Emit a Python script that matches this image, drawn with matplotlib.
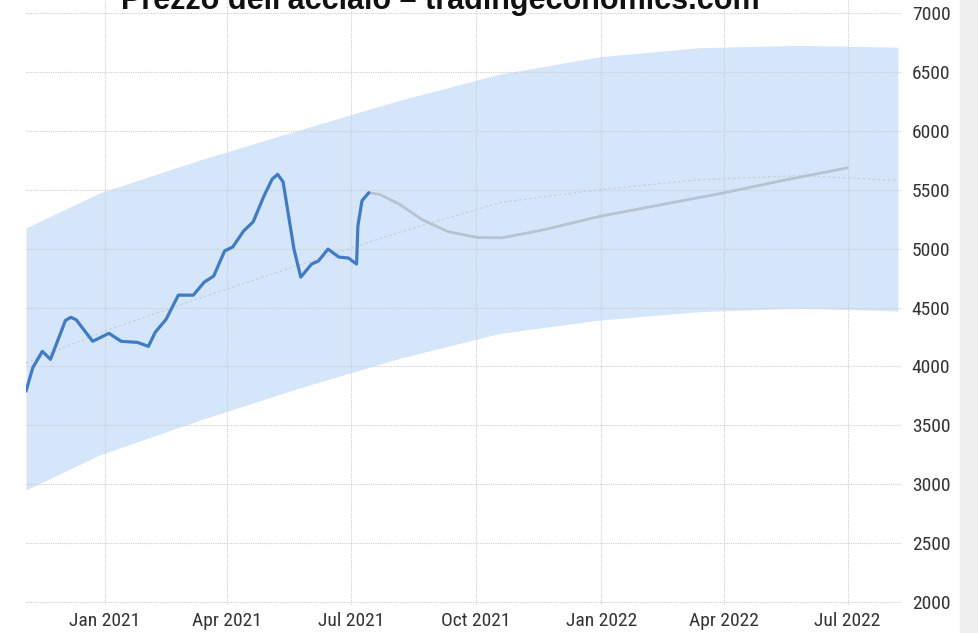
import pandas as pd
import matplotlib
matplotlib.use("Agg")
import matplotlib.pyplot as plt
import matplotlib.dates as mdates
from matplotlib import font_manager
from matplotlib.patches import Rectangle

# --- data ------------------------------------------------------------------
actual_dates = [
    "2020-11-04", "2020-11-09", "2020-11-16", "2020-11-22", "2020-12-03",
    "2020-12-07", "2020-12-11", "2020-12-23", "2021-01-04", "2021-01-13",
    "2021-01-25", "2021-02-02", "2021-02-07", "2021-02-15", "2021-02-24",
    "2021-03-07", "2021-03-15", "2021-03-22", "2021-03-30", "2021-04-05",
    "2021-04-13", "2021-04-20", "2021-04-28", "2021-05-04", "2021-05-08",
    "2021-05-12", "2021-05-20", "2021-05-25", "2021-06-02", "2021-06-07",
    "2021-06-14", "2021-06-22", "2021-06-29", "2021-07-05", "2021-07-06",
    "2021-07-09", "2021-07-14",
]
actual_values = [
    3790, 3990, 4128, 4060, 4390,
    4417, 4395, 4213, 4281, 4213,
    4204, 4170, 4290, 4400, 4605,
    4605, 4715, 4767, 4980, 5014,
    5150, 5227, 5448, 5590, 5630,
    5567, 4996, 4758, 4869, 4895,
    4996, 4928, 4920, 4869, 5193,
    5406, 5474,
]

forecast_dates = [
    "2021-07-14", "2021-07-22", "2021-08-05", "2021-08-22", "2021-09-10",
    "2021-10-02", "2021-10-20", "2021-11-17", "2021-12-31", "2022-02-15",
    "2022-04-01", "2022-05-15", "2022-07-01",
]
forecast_values = [
    5474, 5460, 5380, 5247, 5145,
    5094, 5092, 5153, 5274, 5375,
    5473, 5580, 5685,
]

band_dates = [
    "2020-11-04", "2020-12-28", "2021-03-12", "2021-05-24", "2021-08-06",
    "2021-10-18", "2021-12-31", "2022-03-14", "2022-05-27", "2022-08-07",
]
band_upper = [5175, 5472, 5752, 6007, 6260, 6480, 6629, 6705, 6725, 6709]
band_lower = [2951, 3248, 3545, 3817, 4070, 4280, 4394, 4465, 4495, 4470]
trend_values = [4029, 4284, 4581, 4861, 5140, 5390, 5500, 5585, 5620, 5578]

title = "Prezzo dell'acciaio \u2013 tradingeconomics.com"

actual_dates = pd.to_datetime(actual_dates)
forecast_dates = pd.to_datetime(forecast_dates)
band_dates = pd.to_datetime(band_dates)

# --- pick a narrow face for the tick labels if one is around ---------------
installed = font_manager.fontManager.ttflist
names = {f.name for f in installed}
tick_stretch = "normal"
if "Liberation Sans Narrow" in names:
    tick_family, tick_size = "Liberation Sans Narrow", 14.5
elif "Roboto Condensed" in names:
    tick_family, tick_size = "Roboto Condensed", 14
elif any(f.name == "DejaVu Sans" and "Condensed" in f.fname for f in installed):
    tick_family, tick_size, tick_stretch = "DejaVu Sans", 13, "condensed"
else:
    tick_family, tick_size = "Roboto", 13

# --- figure ----------------------------------------------------------------
W, H = 979, 633
fig = plt.figure(figsize=(W / 100, H / 100), dpi=100)
ax = fig.add_axes([26 / W, (H - 605) / H, (902 - 26) / W, 605 / H])

ax.fill_between(band_dates, band_lower, band_upper, color="#d5e5fa",
                linewidth=0, zorder=1)
ax.plot(band_dates, trend_values, color="#c6cfdb", linewidth=0.9,
        linestyle=(0, (2, 2)), zorder=2)
ax.plot(forecast_dates, forecast_values, color="#b8c3d0", linewidth=2.0,
        solid_capstyle="round", solid_joinstyle="round", zorder=3)
ax.plot(actual_dates, actual_values, color="#3f7cc4", linewidth=2.3,
        solid_capstyle="round", solid_joinstyle="round", zorder=4)

ax.set_xlim(pd.Timestamp("2020-11-04"), pd.Timestamp("2022-08-10"))
ax.set_ylim(1975, 7110)
ax.set_yticks(range(2000, 7001, 500))
ax.xaxis.set_major_locator(mdates.MonthLocator(bymonth=[1, 4, 7, 10]))
ax.xaxis.set_major_formatter(mdates.DateFormatter("%b %Y"))

ax.grid(True, color="#cfcfcf", linestyle=(0, (1, 1)), linewidth=0.8, zorder=1.5)
ax.set_axisbelow(False)
for s in ax.spines.values():
    s.set_visible(False)
ax.patch.set_alpha(0)

ax.yaxis.tick_right()
ax.tick_params(axis="y", length=0, pad=7, labelsize=tick_size, labelcolor="#333333")
ax.tick_params(axis="x", length=0, pad=5, labelsize=tick_size, labelcolor="#333333")
for lab in ax.get_xticklabels() + ax.get_yticklabels():
    lab.set_fontfamily([tick_family, "DejaVu Sans"])
    lab.set_fontstretch(tick_stretch)

# grey strip on the right edge
fig.patches.append(Rectangle((960 / W, 0), 19 / W, 1, transform=fig.transFigure,
                             color="#efefef", zorder=0))

# title sits partly above the top edge, as in the screenshot
fig.text(440 / W, 1 - 9 / H, title, ha="center", va="baseline",
         fontsize=22, fontweight="bold", color="#111111",
         family=["Liberation Sans", "DejaVu Sans"])

fig.savefig("out.png", dpi=100)
